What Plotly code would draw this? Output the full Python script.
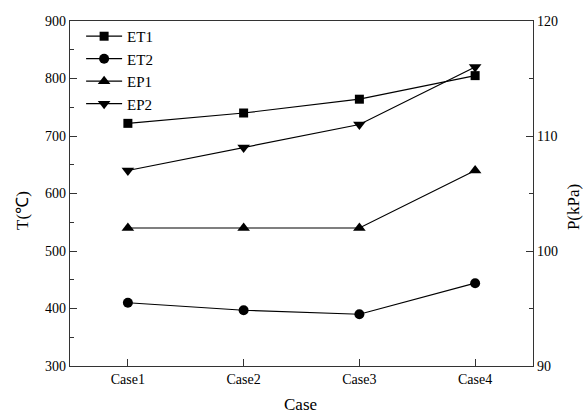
import plotly.graph_objects as go

# Operating cases
cases = ["Case1", "Case2", "Case3", "Case4"]

# Temperatures (°C), left axis
et1 = [722, 740, 764, 805]
et2 = [410, 397, 390, 444]

# Pressures (kPa), right axis
ep1 = [102, 102, 102, 107]
ep2 = [107, 109, 111, 116]

FONT = "Liberation Serif"
BLACK = "#000000"

fig = go.Figure()

series = [
    ("ET1", et1, "square", 9, "y"),
    ("ET2", et2, "circle", 10, "y"),
    ("EP1", ep1, "triangle-up", 11, "y2"),
    ("EP2", ep2, "triangle-down", 11, "y2"),
]
for name, vals, sym, size, yax in series:
    fig.add_trace(go.Scatter(
        x=list(range(len(cases))), y=vals, name=name, yaxis=yax,
        mode="lines+markers",
        line=dict(color=BLACK, width=1.2),
        marker=dict(symbol=sym, size=size, color=BLACK, line=dict(width=0)),
    ))

axis_common = dict(
    showline=True, linecolor="#333333", linewidth=1.3,
    ticks="inside", ticklen=7, tickcolor="#333333", tickwidth=1.3,
    showgrid=False, zeroline=False,
    tickfont=dict(family=FONT, size=14, color=BLACK),
)

title_font = dict(family=FONT, size=17, color=BLACK)

fig.update_layout(
    width=584, height=414,
    margin=dict(l=70, r=51, t=21, b=48),
    paper_bgcolor="white", plot_bgcolor="white",
    font=dict(family=FONT, color=BLACK),
    xaxis=dict(
        **axis_common,
        range=[-0.5, 3.5],
        tickmode="array", tickvals=list(range(len(cases))), ticktext=cases,
        mirror=True,
    ),
    yaxis=dict(
        **axis_common,
        range=[300, 900], dtick=100,
        minor=dict(ticks="inside", ticklen=4, dtick=50, tickcolor="#333333", tickwidth=1.3),
    ),
    yaxis2=dict(
        **axis_common,
        range=[90, 120], dtick=10, overlaying="y", side="right",
        minor=dict(ticks="inside", ticklen=4, dtick=5, tickcolor="#333333", tickwidth=1.3),
    ),
    legend=dict(
        x=0.024, y=1.003, xanchor="left", yanchor="top",
        bgcolor="rgba(0,0,0,0)",
        font=dict(family=FONT, size=15, color=BLACK),
        tracegroupgap=0, itemwidth=36,
    ),
    showlegend=True,
    annotations=[
        dict(text="T(℃)", xref="paper", yref="paper", x=-0.104, y=0.452,
             xanchor="center", yanchor="middle",
             showarrow=False, textangle=-90, font=title_font),
        dict(text="P(kPa)", xref="paper", yref="paper", x=1.086, y=0.46,
             xanchor="center", yanchor="middle",
             showarrow=False, textangle=-90, font=title_font),
        dict(text="Case", xref="paper", yref="paper", x=0.497, y=-0.113,
             xanchor="center", yanchor="middle",
             showarrow=False, font=title_font),
    ],
)

fig.write_html("out.html")
